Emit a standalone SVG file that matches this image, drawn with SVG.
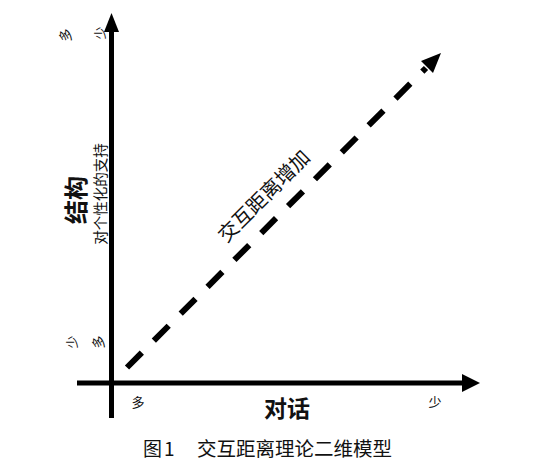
<svg xmlns="http://www.w3.org/2000/svg" width="546" height="469" viewBox="0 0 546 469">
<style>
.t{font-family:"Noto Sans CJK SC","Noto Sans",sans-serif;fill:#111}
.s{font-size:13px}
.b{font-weight:bold}
.axis{stroke:#000;stroke-width:5;fill:none}
.dash{stroke:#000;stroke-width:6;stroke-dasharray:21 17;fill:none}
</style>
<rect width="546" height="469" fill="#fff"/>
<g id="connectors">
<line id="y-axis" class="axis" x1="111.5" y1="418" x2="111.5" y2="28"/>
<polygon points="111.5,13 104,32 119,32" fill="#000"/>
<line id="x-axis" class="axis" x1="77" y1="383" x2="465" y2="383"/>
<polygon points="480,383 462,374 462,392" fill="#000"/>
<line id="diag" class="dash" x1="127" y1="367.5" x2="426" y2="68"/>
<polygon points="441,53 421,61 433,73" fill="#000"/>
</g>
<g id="y-labels">
<text class="t b" font-size="24" text-anchor="middle" transform="translate(85,200) rotate(-90)">结构</text>
<text class="t" font-size="14.5" text-anchor="middle" transform="translate(106,194) rotate(-90)">对个性化的支持</text>
<text class="t s" text-anchor="middle" transform="translate(70,35) rotate(-90)">多</text>
<text class="t s" text-anchor="middle" transform="translate(105,33) rotate(-90)">少</text>
<text class="t s" text-anchor="middle" transform="translate(77,342) rotate(-90)">少</text>
<text class="t s" text-anchor="middle" transform="translate(103,342) rotate(-90)">多</text>
</g>
<g id="x-labels">
<text class="t b" font-size="23" x="287" y="417" text-anchor="middle">对话</text>
<text class="t s" x="138" y="407" text-anchor="middle">多</text>
<text class="t s" x="435" y="407" text-anchor="middle">少</text>
</g>
<g id="diag-label">
<text class="t" font-size="20" text-anchor="middle" transform="translate(269,201) rotate(-45)">交互距离增加</text>
</g>
<g id="caption">
<text class="t" font-size="19" fill="#222" x="143" y="456">图<tspan dx="2">1</tspan></text>
<text class="t" font-size="19.5" fill="#222" x="197" y="456">交互距离理论二维模型</text>
</g>
</svg>
